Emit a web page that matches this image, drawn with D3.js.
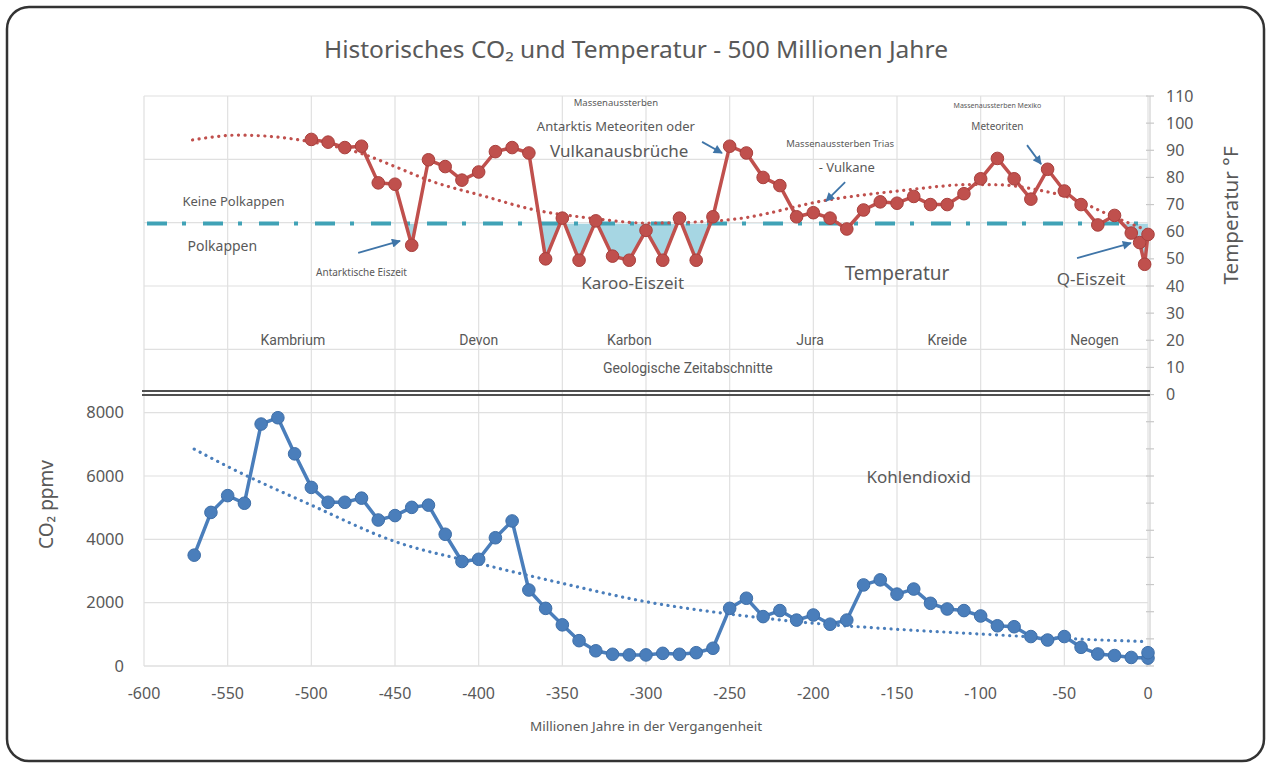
<!DOCTYPE html>
<html>
<head>
<meta charset="utf-8">
<script src="https://cdn.jsdelivr.net/npm/d3@7"></script>
<style>
  body { margin: 0; background: #fff; }
  svg text { fill: #595959; font-family: "Noto Sans", "Open Sans", sans-serif; }
  .narrow { font-family: "Liberation Sans Narrow", "Roboto", sans-serif; }
</style>
</head>
<body>
<svg id="chart" width="1271" height="764"></svg>
<script>
// CO2, million years ago
const co2Years = [-570,-560,-550,-540,-530,-520,-510,-500,-490,-480,-470,-460,-450,-440,-430,-420,-410,-400,-390,-380,
  -370,-360,-350,-340,-330,-320,-310,-300,-290,-280,-270,-260,-250,-240,-230,-220,-210,-200,-190,-180,
  -170,-160,-150,-140,-130,-120,-110,-100,-90,-80,-70,-60,-50,-40,-30,-20,-10,0,0];
const co2Values = [3500,4850,5380,5140,7640,7840,6700,5640,5170,5170,5300,4610,4750,5010,5080,4160,3300,3370,4050,4580,
  2400,1820,1300,800,480,370,350,350,400,370,420,560,1820,2140,1560,1750,1450,1610,1320,1450,
  2560,2720,2270,2430,1980,1800,1750,1580,1270,1240,930,820,930,590,380,330,270,250,420];

// CO2 trend (dotted)
const co2TrendYears = [-570,-550,-500,-450,-400,-350,-300,-250,-200,-150,-100,-50,0];
const co2TrendValues = [6850,6300,5080,3930,3240,2610,2030,1640,1350,1160,1010,870,770];

// temperature °F
const tempYears = [-500,-490,-480,-470,-460,-450,-440,-430,-420,-410,-400,-390,-380,-370,-360,-350,-340,-330,-320,-310,
  -300,-290,-280,-270,-260,-250,-240,-230,-220,-210,-200,-190,-180,-170,-160,-150,-140,-130,-120,-110,
  -100,-90,-80,-70,-60,-50,-40,-30,-20,-10,-5,-2,0];
const tempValues = [94,93,91,91.5,78,77.5,55,86.5,84,79,82,89.5,91,89,50,65,49.5,64,51,49.5,
  60.5,49.5,65,49.5,65.5,91.5,89,80,77,65.5,67,65,61,68,71,70.5,73,70,70,74,
  79.5,87,79.5,72,83,75,70,62.5,66,59.5,56,48,59];

const tempTrendYears = [-571,-543,-500,-470,-450,-430,-395,-370,-330,-300,-260,-245,-192,-145,-105,-90,-65,-45,-25,-13,0];
const tempTrendValues = [93.8,95.6,93.1,88.8,84,79,72.8,68.5,64.8,63.2,63.9,64.8,71.6,75.3,77.4,77.3,75.3,72.2,66.7,63.6,60.4];

const polarCapLimit = 63;

const xTicks = [-600,-550,-500,-450,-400,-350,-300,-250,-200,-150,-100,-50,0];
const co2Ticks = [0,2000,4000,6000,8000];
const co2Grid = [0,2000,4000,6000,8000,10000,12000,14000,16000,18000];
const tempTicks = [0,10,20,30,40,50,60,70,80,90,100,110];
const tempTickMarks = [-100,-90,-80,-70,-60,-50,-40,-30,-20,-10,0,10,20,30,40,50,60,70,80,90,100,110];

const periods = ["Kambrium","Devon","Karbon","Jura","Kreide","Neogen"];
const periodYears = [-511,-400,-310,-202,-120,-32];

const W = 1271, H = 764;
const margin = {top: 96, right: 123, bottom: 98, left: 144};

const svg = d3.select("#chart");

svg.append("rect")
    .attr("x", 7).attr("y", 7)
    .attr("width", W - 14).attr("height", 754)
    .attr("rx", 22)
    .attr("fill", "#fff")
    .attr("stroke", "#333")
    .attr("stroke-width", 2.5);

const x = d3.scaleLinear().domain([-600, 0]).range([margin.left, W - margin.right]);
const yCo2 = d3.scaleLinear().domain([0, 18000]).range([H - margin.bottom, margin.top]);
const yTemp = d3.scaleLinear().domain([-100, 110]).range([H - margin.bottom, margin.top]);

// grid
svg.append("g").selectAll("line").data(co2Grid).join("line")
    .attr("x1", x(-600)).attr("x2", x(0))
    .attr("y1", d => yCo2(d)).attr("y2", d => yCo2(d))
    .attr("stroke", d => d === 0 ? "#cfcfcf" : "#e0e0e0")
    .attr("stroke-width", 1.2);

svg.append("g").selectAll("line").data(xTicks).join("line")
    .attr("x1", d => x(d)).attr("x2", d => x(d))
    .attr("y1", yCo2(18000)).attr("y2", yCo2(0))
    .attr("stroke", "#e0e0e0")
    .attr("stroke-width", 1.2);

// right axis line + ticks
svg.append("line")
    .attr("x1", x(0) + 2).attr("x2", x(0) + 2)
    .attr("y1", yTemp(110)).attr("y2", yTemp(-100))
    .attr("stroke", "#d0d0d0").attr("stroke-width", 1.2);
svg.append("g").selectAll("line").data(tempTickMarks).join("line")
    .attr("x1", x(0) - 2).attr("x2", x(0) + 6)
    .attr("y1", d => yTemp(d)).attr("y2", d => yTemp(d))
    .attr("stroke", "#c8c8c8").attr("stroke-width", 1.2);

// polar cap fill (below limit)
const tempData = tempYears.map((t, i) => ({year: t, v: tempValues[i]}));
svg.append("clipPath").attr("id", "below")
    .append("rect")
    .attr("x", x(-600)).attr("width", x(0) - x(-600))
    .attr("y", yTemp(polarCapLimit)).attr("height", yTemp(0) - yTemp(polarCapLimit));

svg.append("path")
    .datum(tempData)
    .attr("clip-path", "url(#below)")
    .attr("fill", "#a6d6e3")
    .attr("d", d3.area()
        .x(d => x(d.year))
        .y0(yTemp(polarCapLimit))
        .y1(d => yTemp(d.v)));

// polar cap limit line
svg.append("line")
    .attr("x1", x(-600) + 3).attr("x2", x(0))
    .attr("y1", yTemp(polarCapLimit)).attr("y2", yTemp(polarCapLimit))
    .attr("stroke", "#40a2b6")
    .attr("stroke-width", 4)
    .attr("stroke-dasharray", "20 15 4 17");

// separator double line at 0 °F
[-3.5, 0.5].forEach(off => {
    svg.append("line")
        .attr("x1", x(-600) - 2).attr("x2", x(0) + 2)
        .attr("y1", yTemp(0) + off).attr("y2", yTemp(0) + off)
        .attr("stroke", "#505050").attr("stroke-width", 2);
});

// trend lines
const trendCo2 = co2TrendYears.map((t, i) => [x(t), yCo2(co2TrendValues[i])]);
const trendTemp = tempTrendYears.map((t, i) => [x(t), yTemp(tempTrendValues[i])]);

svg.append("path")
    .attr("d", d3.line().curve(d3.curveMonotoneX)(trendCo2))
    .attr("fill", "none")
    .attr("stroke", "#4a7ebb")
    .attr("stroke-width", 3.2)
    .attr("stroke-linecap", "round")
    .attr("stroke-dasharray", "0.1 6.5");

svg.append("path")
    .attr("d", d3.line().curve(d3.curveMonotoneX)(trendTemp))
    .attr("fill", "none")
    .attr("stroke", "#c0504d")
    .attr("stroke-width", 3.2)
    .attr("stroke-linecap", "round")
    .attr("stroke-dasharray", "0.1 6.5");

// data series
function drawSeries(pts, color, dark) {
    svg.append("path")
        .attr("d", d3.line()(pts))
        .attr("fill", "none")
        .attr("stroke", color)
        .attr("stroke-width", 3.5)
        .attr("stroke-linejoin", "round");
    svg.append("g").selectAll("circle").data(pts).join("circle")
        .attr("cx", d => d[0]).attr("cy", d => d[1])
        .attr("r", 6.3)
        .attr("fill", color)
        .attr("stroke", dark)
        .attr("stroke-width", 1);
}

drawSeries(co2Years.map((t, i) => [x(t), yCo2(co2Values[i])]), "#4a7ebb", "#3f6fa8");
drawSeries(tempData.map(d => [x(d.year), yTemp(d.v)]), "#c0504d", "#a8403d");

// axes labels
svg.append("g").selectAll("text").data(co2Ticks).join("text")
    .attr("x", margin.left - 20).attr("y", d => yCo2(d))
    .attr("dy", "0.35em")
    .attr("text-anchor", "end")
    .attr("font-size", 16.5)
    .text(d => d);

svg.append("g").selectAll("text").data(tempTicks).join("text")
    .attr("x", x(0) + 18).attr("y", d => yTemp(d))
    .attr("dy", "0.35em")
    .attr("font-size", 16)
    .text(d => d);

svg.append("g").selectAll("text").data(xTicks).join("text")
    .attr("x", d => x(d)).attr("y", yCo2(0) + 27)
    .attr("dy", "0.35em")
    .attr("text-anchor", "middle")
    .attr("font-size", 16)
    .text(d => d);

svg.append("text")
    .attr("x", 646).attr("y", 727)
    .attr("dy", "0.35em")
    .attr("text-anchor", "middle")
    .attr("font-size", 12)
    .attr("textLength", 232)
    .attr("lengthAdjust", "spacingAndGlyphs")
    .text("Millionen Jahre in der Vergangenheit");

svg.append("text")
    .attr("transform", `translate(46,${yCo2(5100)}) rotate(-90)`)
    .attr("text-anchor", "middle")
    .attr("dy", "0.35em")
    .attr("font-size", 19)
    .text("CO₂ ppmv");

svg.append("text")
    .attr("transform", `translate(1231,${yTemp(66)}) rotate(-90)`)
    .attr("text-anchor", "middle")
    .attr("dy", "0.35em")
    .attr("font-size", 19)
    .attr("textLength", 138)
    .attr("lengthAdjust", "spacingAndGlyphs")
    .text("Temperatur °F");

svg.append("text")
    .attr("x", 636).attr("y", 50)
    .attr("dy", "0.35em")
    .attr("text-anchor", "middle")
    .attr("font-size", 23)
    .attr("textLength", 624)
    .attr("lengthAdjust", "spacingAndGlyphs")
    .text("Historisches CO₂ und Temperatur - 500 Millionen Jahre");

// annotations in data coordinates (year, °F)
const notes = [
    {t: "Keine Polkappen", yr: -577, v: 71, size: 13, anchor: "start"},
    {t: "Polkappen", yr: -574, v: 54.7, size: 14, anchor: "start"},
    {t: "Antarktische Eiszeit", yr: -470, v: 44.8, size: 10},
    {t: "Massenaussterben", yr: -318, v: 107.4, size: 9.5},
    {t: "Antarktis Meteoriten oder", yr: -318, v: 98.7, size: 13},
    {t: "Vulkanausbrüche", yr: -316, v: 89.7, size: 17},
    {t: "Karoo-Eiszeit", yr: -308, v: 41.1, size: 17},
    {t: "Massenaussterben Trias", yr: -184, v: 92.3, size: 9.5},
    {t: "- Vulkane", yr: -180, v: 83.8, size: 13},
    {t: "Massenaussterben Mexiko", yr: -90, v: 106.5, size: 7},
    {t: "Meteoriten", yr: -90, v: 98.6, size: 10},
    {t: "Temperatur", yr: -150, v: 44.8, size: 19},
    {t: "Q-Eiszeit", yr: -34, v: 42.6, size: 17}
];

svg.append("g").selectAll("text").data(notes).join("text")
    .attr("x", d => x(d.yr)).attr("y", d => yTemp(d.v))
    .attr("dy", "0.35em")
    .attr("text-anchor", d => d.anchor || "middle")
    .attr("font-size", d => d.size)
    .text(d => d.t);

svg.append("g").selectAll("text").data(periods).join("text")
    .attr("class", "narrow")
    .attr("x", (d, i) => x(periodYears[i])).attr("y", yTemp(20.1))
    .attr("dy", "0.35em")
    .attr("text-anchor", "middle")
    .attr("font-size", 14)
    .text(d => d);

svg.append("text")
    .attr("class", "narrow")
    .attr("x", x(-275)).attr("y", yTemp(9.8))
    .attr("dy", "0.35em")
    .attr("text-anchor", "middle")
    .attr("font-size", 14)
    .text("Geologische Zeitabschnitte");

svg.append("text")
    .attr("x", x(-137)).attr("y", yCo2(5970))
    .attr("dy", "0.35em")
    .attr("text-anchor", "middle")
    .attr("font-size", 17)
    .text("Kohlendioxid");

// arrows
svg.append("defs").append("marker")
    .attr("id", "head")
    .attr("viewBox", "0 0 10 10")
    .attr("refX", 9).attr("refY", 5)
    .attr("markerWidth", 6).attr("markerHeight", 5)
    .attr("orient", "auto")
    .attr("markerUnits", "strokeWidth")
    .append("path").attr("d", "M0,0 L10,5 L0,10 z").attr("fill", "#3f75a8");

const arrows = [
    [-472, 52.2, -447, 56.6],
    [-266.5, 93.1, -254.6, 89],
    [-181, 78.3, -192.4, 71.3],
    [-72.3, 91.9, -63.9, 84.9],
    [-42.4, 50.3, -10.2, 55.8]
];

svg.append("g").selectAll("line").data(arrows).join("line")
    .attr("x1", d => x(d[0])).attr("y1", d => yTemp(d[1]))
    .attr("x2", d => x(d[2])).attr("y2", d => yTemp(d[3]))
    .attr("stroke", "#3f75a8")
    .attr("stroke-width", 1.8)
    .attr("marker-end", "url(#head)");
</script>
</body>
</html>
